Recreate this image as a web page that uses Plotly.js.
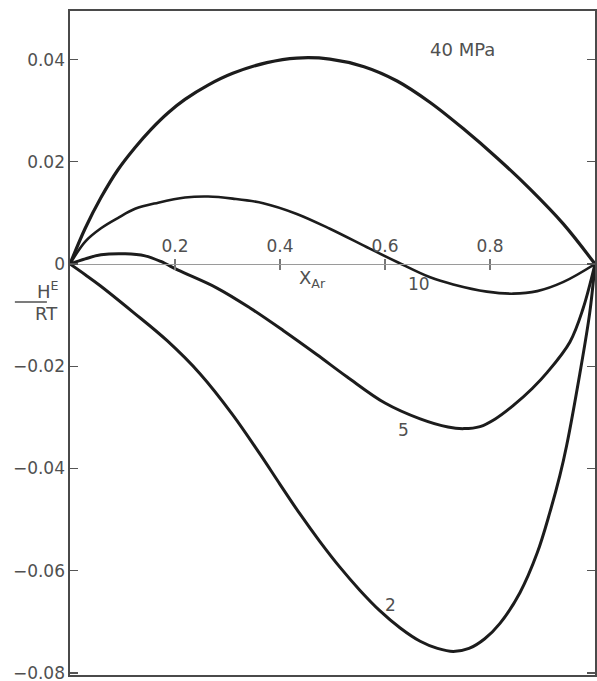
<!DOCTYPE html>
<html>
<head>
<meta charset="utf-8">
<script src="https://cdn.plot.ly/plotly-3.0.1.min.js"></script>
<style>html,body{margin:0;padding:0;background:#fff;}#chart{width:597px;height:681px;}</style>
</head>
<body>
<div id="chart"></div>
<script>
// Mole fraction of argon (x) and excess enthalpy H^E/RT (y) at each pressure
const x40 = [0, 0.029, 0.059, 0.091, 0.124, 0.154, 0.187, 0.219, 0.263, 0.31, 0.375, 0.432, 0.495, 0.56, 0.623, 0.686, 0.75, 0.813, 0.876, 0.94, 1];
const y40 = [0, 0.0070, 0.0130, 0.0184, 0.0228, 0.0263, 0.0296, 0.0322, 0.0350, 0.0373, 0.0394, 0.0403, 0.0401, 0.0386, 0.0358, 0.0316, 0.0264, 0.0208, 0.0147, 0.0078, 0];

const x10 = [0, 0.029, 0.059, 0.091, 0.124, 0.168, 0.219, 0.263, 0.31, 0.368, 0.432, 0.495, 0.571, 0.623, 0.686, 0.73, 0.794, 0.844, 0.89, 0.94, 1];
const y10 = [0, 0.0044, 0.0070, 0.0090, 0.0108, 0.0120, 0.0130, 0.0132, 0.0128, 0.0119, 0.0098, 0.0069, 0.0030, 0.0004, -0.0026, -0.0040, -0.0054, -0.0058, -0.0053, -0.0035, 0];

const x5 = [0, 0.029, 0.059, 0.105, 0.143, 0.173, 0.206, 0.28, 0.343, 0.406, 0.47, 0.528, 0.6, 0.667, 0.72, 0.75, 0.781, 0.81, 0.844, 0.88, 0.909, 0.952, 0.977, 1];
const y5 = [0, 0.0010, 0.0018, 0.0020, 0.0016, 0.0005, -0.0012, -0.0047, -0.0086, -0.0130, -0.0177, -0.0221, -0.0272, -0.0303, -0.0319, -0.0322, -0.0318, -0.0303, -0.0277, -0.0244, -0.0212, -0.0153, -0.0088, 0];

const x2 = [0, 0.029, 0.057, 0.12, 0.185, 0.248, 0.31, 0.362, 0.40, 0.438, 0.476, 0.514, 0.552, 0.59, 0.629, 0.667, 0.70, 0.73, 0.76, 0.79, 0.819, 0.857, 0.89, 0.914, 0.933, 0.946, 0.971, 0.99, 1];
const y2 = [0, -0.0021, -0.0042, -0.0094, -0.0150, -0.0215, -0.0295, -0.0372, -0.0431, -0.0489, -0.0543, -0.0593, -0.0638, -0.0678, -0.0712, -0.0738, -0.0752, -0.0758, -0.0752, -0.0733, -0.0703, -0.0643, -0.0565, -0.0486, -0.0414, -0.0355, -0.0215, -0.0095, 0];

const curveLabels = ["40 MPa", "10", "5", "2"];
const xTickVals = [0.2, 0.4, 0.6, 0.8];
const xTickText = ["0.2", "0.4", "0.6", "0.8"];
const yTickVals = [-0.08, -0.06, -0.04, -0.02, 0, 0.02, 0.04];
const yTickText = ["\u22120.08", "\u22120.06", "\u22120.04", "\u22120.02", "0", "0.02", "0.04"];

const Y_RANGE = [-0.0804, 0.0495];
const X_RANGE = [0, 1];
const zeroPos = (0 - Y_RANGE[0]) / (Y_RANGE[1] - Y_RANGE[0]);

const FONT = "DejaVu Sans";
const TXT = "#505050";
const lineCol = "#1c1c1c";

function curve(x, y, w) {
  return {x: x, y: y, type: "scatter", mode: "lines",
    line: {color: lineCol, width: w, shape: "spline", smoothing: 1},
    hoverinfo: "skip", showlegend: false};
}

const data = [
  curve(x40, y40, 3.2), curve(x10, y10, 2.6), curve(x5, y5, 3), curve(x2, y2, 3),
  // empty traces so the axis drawn along H^E/RT = 0 exists
  {x: [], y: [], type: "scatter", mode: "lines", xaxis: "x2", yaxis: "y", showlegend: false, hoverinfo: "skip"},
  {x: [], y: [], type: "scatter", mode: "lines", xaxis: "x3", yaxis: "y", showlegend: false, hoverinfo: "skip"}
];

const layout = {
  width: 597, height: 681,
  margin: {l: 70, r: 2, t: 11, b: 6, pad: 0},
  paper_bgcolor: "#fff", plot_bgcolor: "#fff",
  font: {family: FONT, size: 17, color: TXT},
  showlegend: false,
  xaxis: {range: X_RANGE, showline: true, mirror: true, linecolor: "#4a4a4a", linewidth: 1.6,
    showgrid: false, zeroline: false, ticks: "", showticklabels: false, fixedrange: true},
  xaxis2: {range: X_RANGE, overlaying: "x", anchor: "free", position: zeroPos, side: "top",
    showline: true, linecolor: "#9a9a9a", linewidth: 1.4, showgrid: false, zeroline: false,
    ticks: "outside", ticklen: 5, tickwidth: 1.3, tickcolor: "#777",
    tickvals: xTickVals, ticktext: xTickText, tickfont: {family: FONT, size: 17, color: TXT}},
  xaxis3: {range: X_RANGE, overlaying: "x", anchor: "free", position: zeroPos, side: "bottom",
    showline: false, showgrid: false, zeroline: false,
    ticks: "outside", ticklen: 5, tickwidth: 1.3, tickcolor: "#777",
    tickvals: xTickVals, showticklabels: false},
  yaxis: {range: Y_RANGE, showline: true, mirror: "ticks", linecolor: "#4a4a4a", linewidth: 1.6,
    showgrid: false, zeroline: false, ticks: "inside", ticklen: 8, tickwidth: 1.3, tickcolor: "#555",
    tickvals: yTickVals, ticktext: yTickText, ticklabeloverflow: "allow",
    tickfont: {family: FONT, size: 17, color: TXT}, fixedrange: true},
  annotations: [
    {text: curveLabels[0], x: 0.747, y: 0.0419, xref: "x", yref: "y", showarrow: false, font: {size: 18, color: TXT}},
    {text: curveLabels[1], x: 0.665, y: -0.0039, xref: "x", yref: "y", showarrow: false, font: {size: 17, color: TXT}},
    {text: curveLabels[2], x: 0.636, y: -0.0325, xref: "x", yref: "y", showarrow: false, font: {size: 17, color: TXT}},
    {text: curveLabels[3], x: 0.611, y: -0.0667, xref: "x", yref: "y", showarrow: false, font: {size: 17, color: TXT}},
    {text: "X<sub>Ar</sub>", x: 0.462, y: -0.0030, xref: "x", yref: "y", showarrow: false, font: {size: 18, color: TXT}},
    {text: "H<sup>E</sup>", x: -0.066, y: 0.580, xref: "paper", yref: "paper", showarrow: false, font: {size: 18, color: TXT}},
    {text: "RT", x: -0.0705, y: 0.5437, xref: "paper", yref: "paper", showarrow: false, font: {size: 18, color: TXT}}
  ],
  shapes: [
    {type: "line", xref: "paper", yref: "paper", x0: -0.105, x1: -0.044, y0: 0.5617, y1: 0.5617,
      line: {color: TXT, width: 1.6}}
  ]
};

Plotly.newPlot("chart", data, layout, {displayModeBar: false, staticPlot: true});
</script>
</body>
</html>
